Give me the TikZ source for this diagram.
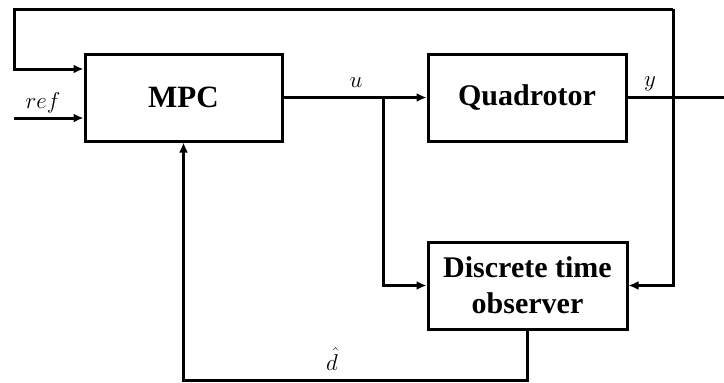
\documentclass[tikz,border=0pt]{standalone}
\usepackage{fix-cm}
\usepackage{fontspec}
\setmainfont{Liberation Serif}
\usetikzlibrary{arrows.meta,shadows}
\begin{document}
\begin{tikzpicture}[x=1pt,y=-1pt,
  box/.style={draw, line width=3pt, fill=white, inner sep=0pt, align=center,
    font=\fontsize{30}{36}\selectfont\bfseries,
    drop shadow={opacity=0.25, shadow xshift=2pt, shadow yshift=-2pt}},
  wire/.style={line width=3pt},
  arr/.style={wire, -{Latex[length=10pt,width=9pt]}},
  lbl/.style={inner sep=1pt, font=\fontsize{23}{26}\selectfont}]
\useasboundingbox (0,0) rectangle (724,383);
\node[box, minimum width=197pt, minimum height=87pt] (mpc) at (183.5,97.5) {\fontsize{31}{36}\selectfont MPC};
\node[box, minimum width=198pt, minimum height=87pt] (quad) at (527,97.5) {Quadrotor};
\node[box, minimum width=199pt, minimum height=87pt] (obs) at (527.5,285.5) {Discrete time\\observer};
\coordinate (br) at (383,97.5);
\coordinate (out) at (724,97.5);
\coordinate (tr) at (673,9);
\coordinate (tl) at (14,9);
\coordinate (rin) at (14,118);
\coordinate (db) at (527.5,380);
\draw[arr] (mpc.east) -- (quad.west);
\draw[arr] (br) |- (obs.west);
\draw[wire] (quad.east) -- (out);
\draw[arr] (tr) -- (tr |- obs.east) -- (obs.east);
\draw[arr] (tr) -- (tl) |- ([yshift=28.5pt]mpc.west);
\draw[arr] (rin) -- (rin -| mpc.west);
\draw[arr] (obs.south) -- (db) -| (mpc.south);
\node[lbl] (lu) at (356,83) {$u$};
\node[lbl] (ly) at (650,84) {$y$};
\node[lbl] (lr) at (43,103) {$ref$};
\node[lbl] (ld) at (332,359) {$\hat{d}$};
\end{tikzpicture}
\end{document}
